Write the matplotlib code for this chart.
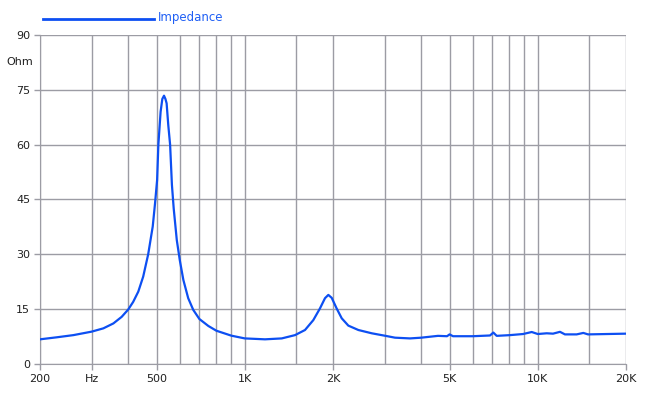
import matplotlib
matplotlib.use("Agg")
import matplotlib.pyplot as plt
from matplotlib.ticker import FixedLocator, NullLocator


# impedance curve (Hz, Ohm)
freq = [
    200, 228, 260, 300, 329, 356, 380, 400, 416, 433, 450, 468, 485, 494,
    502, 507, 516, 523, 530, 536, 541, 548, 556, 564, 572, 586, 600, 617,
    641, 667, 700, 751, 800, 900, 1000, 1172, 1337, 1484, 1605, 1713, 1805,
    1878, 1928, 1980, 2058, 2142, 2256, 2441, 2712, 3000, 3256, 3663, 4000,
    4565, 4900, 5000, 5136, 6000, 6869, 7050, 7240, 8037, 8903, 9535, 10000,
    10725, 11270, 11905, 12380, 13570, 14300, 14840, 20000,
]
ohm = [
    6.75, 7.3, 7.9, 8.85, 9.75, 11.1, 12.9, 14.9, 17.0, 19.8, 23.9, 30.0, 37.6, 44.0,
    50.3, 60.0, 69.0, 72.5, 73.4, 72.5, 71.3, 65.4, 60.0, 49.0, 42.5, 33.9, 28.4, 23.0,
    18.0, 14.8, 12.3, 10.4, 9.1, 7.75, 7.0, 6.75, 7.0, 7.9, 9.3, 12.0, 15.2,
    18.0, 18.9, 18.1, 15.2, 12.5, 10.5, 9.3, 8.4, 7.75, 7.2, 7.0, 7.2,
    7.7, 7.6, 8.1, 7.6, 7.6, 7.8, 8.6, 7.7, 7.9, 8.2, 8.75, 8.2,
    8.4, 8.3, 8.8, 8.1, 8.1, 8.5, 8.1, 8.3,
]

grid_freqs = [200, 300, 400, 500, 600, 700, 800, 900, 1000, 1500, 2000,
              3000, 4000, 5000, 6000, 7000, 8000, 9000, 10000, 15000, 20000]
label_freqs = [200, 300, 500, 1000, 2000, 5000, 10000, 20000]
label_text = ["200", "Hz", "500", "1K", "2K", "5K", "10K", "20K"]
y_ticks = [0, 15, 30, 45, 60, 75, 90]

LINE_COLOR = "#0d4ff2"
GRID_COLOR = "#9c9ca4"

fig = plt.figure(figsize=(6.5, 3.96), dpi=100)
ax = fig.add_axes([40 / 650, 32 / 396, 586 / 650, 329 / 396])

ax.set_xscale("log")
ax.set_xlim(200, 20000)
ax.set_ylim(0, 90)

for f in grid_freqs:
    ax.axvline(f, color=GRID_COLOR, lw=1, zorder=1)
for v in y_ticks:
    ax.axhline(v, color=GRID_COLOR, lw=1, zorder=1)

ax.plot(freq, ohm, color=LINE_COLOR, lw=1.6, zorder=3,
        solid_joinstyle="round")

ax.xaxis.set_major_locator(FixedLocator(label_freqs))
ax.xaxis.set_minor_locator(NullLocator())
ax.set_xticklabels(label_text)
ax.set_yticks(y_ticks)
ax.tick_params(axis="both", length=4, width=1, color=GRID_COLOR,
               labelsize=8, labelcolor="#202020", pad=3)

for side in ["top", "right"]:
    ax.spines[side].set_visible(False)
for side in ["left", "bottom"]:
    ax.spines[side].set_color(GRID_COLOR)

ax.text(-7 / 586, 82.6, "Ohm", transform=ax.get_yaxis_transform(),
        ha="right", va="center", fontsize=8, color="#202020")

# legend drawn by hand above the plot
fig.add_artist(plt.Line2D([43 / 650, 154 / 650], [1 - 19 / 396, 1 - 19 / 396],
                          color=LINE_COLOR, lw=2))
fig.text(158 / 650, 1 - 18 / 396, "Impedance", color="#1f5ff5",
         fontsize=8.5, ha="left", va="center")

fig.savefig("out.png", dpi=100, facecolor="white")
